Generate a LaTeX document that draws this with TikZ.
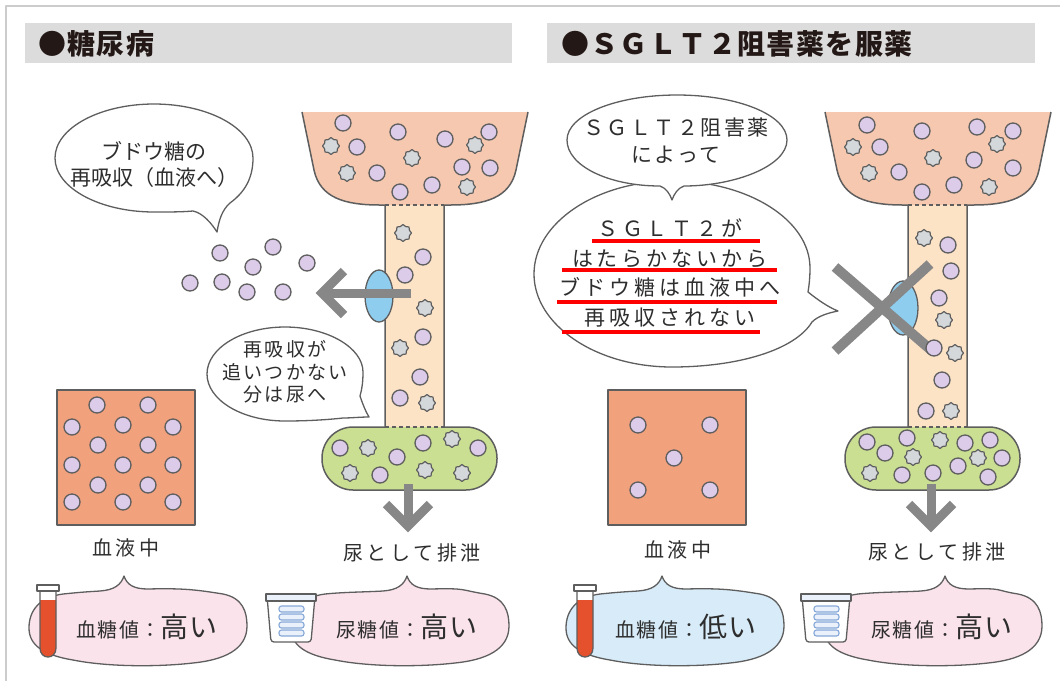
\documentclass[tikz,border=0pt]{standalone}
\usepackage{fontspec}
\newfontfamily\jp{Noto Sans CJK JP}
\usetikzlibrary{shapes.geometric}

\definecolor{hdr}{HTML}{DCDCDC}
\definecolor{hdrink}{HTML}{231815}
\definecolor{ink}{HTML}{2E2E2E}
\definecolor{edge}{HTML}{5E5E5E}
\definecolor{funnelc}{HTML}{F5C8AF}
\definecolor{tubec}{HTML}{FCE3C6}
\definecolor{greenc}{HTML}{CADF92}
\definecolor{bloodc}{HTML}{F2A17D}
\definecolor{lav}{HTML}{DDCBEA}
\definecolor{spkc}{HTML}{D4D8DB}
\definecolor{transc}{HTML}{8FCDEF}
\definecolor{arrowc}{HTML}{878787}
\definecolor{pinkc}{HTML}{FBE3EC}
\definecolor{bluec}{HTML}{D7EBF8}
\definecolor{redtube}{HTML}{E4512C}
\definecolor{cupline}{HTML}{86A8D8}
\definecolor{cupfill}{HTML}{EAF1FA}
\definecolor{framec}{HTML}{CCCCCC}

\newcommand{\valsm}{\fontsize{20}{22}\selectfont\addfontfeature{LetterSpace=8}}
\newcommand{\valbig}{\fontsize{28}{30}\selectfont\addfontfeature{LetterSpace=3}}

% funnel, tubule and collecting capsule of one nephron, with the outflow arrow
\newcommand{\kidneyframe}{%
  \fill[funnelc] (302,112) -- (314,170) .. controls (320,198) and (345,205) .. (380,205)
     -- (450,205) .. controls (485,205) and (510,198) .. (516,170) -- (528,112) -- cycle;
  \fill[greenc, rounded corners=31pt] (322,427) rectangle (497,490);
  \fill[tubec] (385,205) rectangle (444,427);
  \draw[outl] (302,112) -- (314,170) .. controls (320,198) and (345,205) .. (380,205) -- (385,205) -- (385,427);
  \draw[outl] (528,112) -- (516,170) .. controls (510,198) and (485,205) .. (450,205) -- (444,205) -- (444,427);
  \draw[outl, rounded corners=31pt] (385,427) -- (322,427) -- (322,490) -- (497,490) -- (497,427) -- (444,427);
  \draw[outl, line width=1.2pt, dash pattern=on 4pt off 3pt] (385,205) -- (444,205);
  \draw[outl, line width=1.2pt, dash pattern=on 4pt off 3pt] (385,427) -- (444,427);
  \coordinate (dtop) at (408,484);
  \coordinate (dtip) at (408,526);
  \draw[garrow] (dtop) -- (dtip);
  \draw[garrow] (386,504) -- (dtip) -- (430,504);
}

% lower speech cloud: #1 left x, #2 peak offset, #3 fill
\newcommand{\lowbub}[3]{%
  \begin{scope}[xshift=#1pt]
  \draw[bubl, fill=#3] (#2-24,591) .. controls (#2-10,590) and (#2-3,585) .. (#2,576)
    .. controls (#2+3,585) and (#2+10,589) .. (#2+24,589)
    .. controls (#2+60,588) and (170,590) .. (195,594)
    .. controls (215,598) and (219,612) .. (219,626)
    .. controls (219,650) and (195,660) .. (165,663)
    .. controls (130,667) and (80,667) .. (45,660)
    .. controls (15,655) and (1,645) .. (1,628)
    .. controls (1,610) and (12,597) .. (35,594)
    .. controls (55,592) and (#2-40,592) .. (#2-24,591) -- cycle;
  \end{scope}}

% blood sample tube
\newcommand{\testtube}[1]{%
  \begin{scope}[xshift=#1pt]
  \fill[white] (40,590) -- (40,648) .. controls (40,660) and (56,660) .. (56,648) -- (56,590) -- cycle;
  \fill[redtube] (40,600) -- (40,648) .. controls (40,660) and (56,660) .. (56,648) -- (56,600) -- cycle;
  \draw[edge, line width=1.3pt] (40,590) -- (40,648) .. controls (40,660) and (56,660) .. (56,648) -- (56,590);
  \draw[edge, line width=1.3pt, fill=white] (37,585) rectangle (59,591);
  \end{scope}}

% urine cup
\newcommand{\urinecup}[1]{%
  \begin{scope}[xshift=#1pt]
  \draw[edge, line width=1.3pt, fill=white, rounded corners=3pt] (267,596) -- (271,642) -- (311,642) -- (315,596) -- cycle;
  \draw[edge, line width=1.2pt, fill=cupfill] (266,594) rectangle (316,601);
  \foreach \yy in {606,614,622,630}
    \draw[cupline, line width=1.1pt, fill=cupfill, rounded corners=2.5pt] (279,\yy) rectangle (304,\yy+6);
  \end{scope}}

\begin{document}
\begin{tikzpicture}[x=1pt, y=-1pt, line join=round,
  glu/.style={circle, draw=edge, fill=lav, line width=1.3pt, minimum size=16pt, inner sep=0pt},
  spk/.style={star, star points=8, star point ratio=1.22, draw=edge, fill=spkc, line width=1.2pt, minimum size=17pt, inner sep=0pt},
  outl/.style={draw=edge, line width=1.5pt},
  bubl/.style={draw=edge, line width=1.3pt},
  garrow/.style={draw=arrowc, line width=9pt, line cap=butt, line join=miter},
  redul/.style={draw=red, line width=3.5pt},
  hdrtxt/.style={anchor=west, inner sep=0pt, text=hdrink, font=\jp\bfseries\fontsize{28}{30}\selectfont\addfontfeature{LetterSpace=5}},
  bubA/.style={text=ink, align=center, inner sep=0pt, font=\jp\fontsize{21}{26}\selectfont},
  bubB/.style={text=ink, align=center, inner sep=0pt, font=\jp\fontsize{19}{22.5}\selectfont\addfontfeature{LetterSpace=12}},
  bubC/.style={text=ink, align=center, inner sep=0pt, font=\jp\fontsize{21}{27}\selectfont\addfontfeature{LetterSpace=12}},
  bubD/.style={text=ink, align=center, inner sep=0pt, font=\jp\fontsize{21}{29.5}\selectfont\addfontfeature{LetterSpace=19}},
  lbl/.style={text=ink, inner sep=0pt, font=\jp\fontsize{20}{22}\selectfont\addfontfeature{LetterSpace=18}},
  val/.style={text=ink, inner sep=0pt, font=\jp}]

\useasboundingbox (0,0) rectangle (1060,681);
\fill[white] (0,0) rectangle (1060,681);
\draw[framec, line width=1.2pt] (6,681) -- (6,6) -- (1060,6);

% headers
\fill[hdr] (25,23) rectangle (512,63);
\fill[hdr] (547,23) rectangle (1035,63);
\node[hdrtxt] (h1) at (38,44) {●糖尿病};
\node[hdrtxt] (h2) at (561,44) {●ＳＧＬＴ２阻害薬を服薬};

% ================= left panel: diabetes =================
\kidneyframe
\foreach \x/\y [count=\i] in {343/123,357/147,398/132,445/139,489/132,377/173,432/185,400/192,462/167,490/168}
  \node[glu] (lfc\i) at (\x,\y) {};
\foreach \x/\y [count=\i] in {331/146,347/173,412/158,475/145,467/187}
  \node[spk] (lfs\i) at (\x,\y) {};
\foreach \x/\y [count=\i] in {423/257,405/275,423/337,420/377,400/398}
  \node[glu] (ltc\i) at (\x,\y) {};
\foreach \x/\y [count=\i] in {403/233,425/308,400/348,427/403}
  \node[spk] (lts\i) at (\x,\y) {};
\foreach \x/\y [count=\i] in {340/448,397/457,423/443,478/448,380/475}
  \node[glu] (lcc\i) at (\x,\y) {};
\foreach \x/\y [count=\i] in {368/448,452/439,350/473,425/470,462/473}
  \node[spk] (lcs\i) at (\x,\y) {};
\foreach \x/\y [count=\i] in {273/247,220/253,253/267,307/263,190/283,222/282,247/292,283/292}
  \node[glu] (lrc\i) at (\x,\y) {};

% transporter and reabsorption arrow
\draw[draw=edge, line width=1.3pt, fill=transc] (379,296) ellipse [x radius=14, y radius=26];
\coordinate (la0) at (411,293);
\coordinate (la1) at (322,293);
\draw[garrow] (la0) -- (la1);
\draw[garrow] (344,271) -- (la1) -- (344,315);

% speech bubbles
\draw[bubl, fill=white] (193,211) .. controls (203,213) and (212,224) .. (217,232)
   .. controls (219,220) and (222,210) .. (230,203)
   .. controls (245,192) and (253,178) .. (253,158)
   .. controls (253,128) and (208,104) .. (154,104)
   .. controls (100,104) and (55,128) .. (55,158)
   .. controls (55,188) and (100,212) .. (154,212)
   .. controls (170,212) and (182,212) .. (193,211) -- cycle;
\node[bubA] (lb1) at (154,165) {ブドウ糖の\\再吸収（血液へ）};

\draw[bubl, fill=white] (285,327) .. controls (328,327) and (363,348) .. (363,372)
   .. controls (363,382) and (362,389) .. (360,396)
   .. controls (363,405) and (366,412) .. (369,417)
   .. controls (360,417) and (351,418) .. (343,418)
   .. controls (325,420) and (305,421) .. (285,421)
   .. controls (242,421) and (207,400) .. (207,374)
   .. controls (207,348) and (242,327) .. (285,327) -- cycle;
\node[bubB] (lb2) at (285,372) {再吸収が\\追いつかない\\分は尿へ};

% blood compartment
\draw[edge, line width=1.5pt, fill=bloodc] (57,390) rectangle (195,525);
\foreach \x/\y [count=\i] in {97/405,148/405,72/427,123/425,173/427,98/445,148/445,72/465,123/465,173/465,98/485,148/485,72/502,123/502,173/502}
  \node[glu] (lbc\i) at (\x,\y) {};

\node[lbl] (lbl1) at (126,548) {血液中};
\node[lbl] (lbl2) at (412,553) {尿として排泄};

\lowbub{28}{96}{pinkc}
\testtube{0}
\node[val] (lv1) at (147,627) {\valsm 血糖値：\valbig 高い};
\lowbub{290}{117}{pinkc}
\urinecup{0}
\node[val] (lv2) at (407,627) {\valsm 尿糖値：\valbig 高い};

% ================= right panel: SGLT2 inhibitor =================
\begin{scope}[xshift=523pt]
\kidneyframe
\end{scope}
\foreach \x/\y [count=\i] in {867/125,880/147,922/131,977/127,1013/131,899/172,974/160,1013/168,922/192,954/185}
  \node[glu] (rfc\i) at (\x,\y) {};
\foreach \x/\y [count=\i] in {853/147,869/173,933/158,997/144,989/187}
  \node[spk] (rfs\i) at (\x,\y) {};
\foreach \x/\y [count=\i] in {948/245,951/271,939/298,942/380,926/411}
  \node[glu] (rtc\i) at (\x,\y) {};
\foreach \x/\y [count=\i] in {924/238,944/320,955/353,951/411}
  \node[spk] (rts\i) at (\x,\y) {};
\foreach \x/\y [count=\i] in {867/442,885/453,907/438,965/443,990/440,1002/458,958/466,902/475,933/473,988/477}
  \node[glu] (rcc\i) at (\x,\y) {};
\foreach \x/\y [count=\i] in {940/440,913/457,978/458,870/473}
  \node[spk] (rcs\i) at (\x,\y) {};

% blocked transporter
\draw[draw=edge, line width=1.3pt, fill=transc] (903,308) ellipse [x radius=15, y radius=27];
\coordinate (xa) at (835,267);
\coordinate (xb) at (931,350);
\coordinate (xc) at (930,264);
\coordinate (xd) at (835,351);
\draw[garrow, line width=10pt] (xa) -- (xb);
\draw[garrow, line width=10pt] (xc) -- (xd);
\node[glu] (rtc6) at (934,348) {};

% speech bubbles
\draw[bubl, fill=white] (672,181) .. controls (748,181) and (810,220) .. (810,268)
   .. controls (810,278) and (809,286) .. (808,292)
   .. controls (818,300) and (828,307) .. (838,311)
   .. controls (828,313) and (818,316) .. (812,322)
   .. controls (795,350) and (738,367) .. (672,367)
   .. controls (596,367) and (534,325) .. (534,274)
   .. controls (534,223) and (596,181) .. (672,181) -- cycle;
\draw[bubl, fill=white] (787,140) .. controls (787,166) and (735,186) .. (684,186)
   .. controls (678,188) and (674,194) .. (672,200)
   .. controls (670,194) and (666,188) .. (660,186)
   .. controls (609,186) and (567,166) .. (567,140)
   .. controls (567,115) and (616,95) .. (677,95)
   .. controls (738,95) and (787,115) .. (787,140) -- cycle;
\node[bubC] (rb1) at (676,141) {ＳＧＬＴ２阻害薬\\によって};
\node[bubD] (rb2) at (670,273) {ＳＧＬＴ２が\\はたらかないから\\ブドウ糖は血液中へ\\再吸収されない};
\draw[redul] (592,241) -- (760,241);
\draw[redul] (562,270) -- (777,270);
\draw[redul] (557,302) -- (777,302);
\draw[redul] (562,332) -- (760,332);

% blood compartment
\draw[edge, line width=1.5pt, fill=bloodc] (608,390) rectangle (746,525);
\foreach \x/\y [count=\i] in {638/425,710/425,674/458,638/490,710/490}
  \node[glu] (rbc\i) at (\x,\y) {};

\node[lbl] (lbl3) at (678,550) {血液中};
\node[lbl] (lbl4) at (937,552) {尿として排泄};

\lowbub{565}{97}{bluec}
\testtube{537}
\node[val] (rv1) at (686,627) {\valsm 血糖値：\valbig 低い};
\lowbub{823}{122}{pinkc}
\urinecup{535}
\node[val] (rv2) at (942,627) {\valsm 尿糖値：\valbig 高い};

\end{tikzpicture}
\end{document}
